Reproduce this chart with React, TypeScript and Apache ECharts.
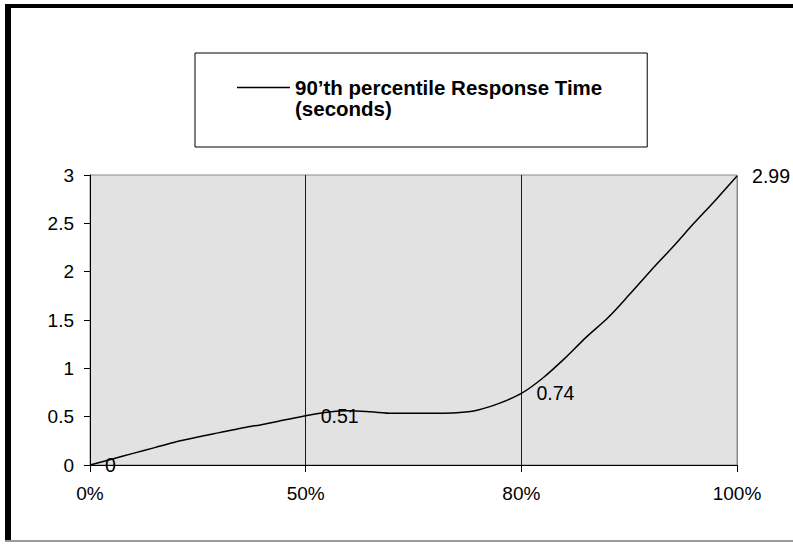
import React, { useEffect, useRef } from "react";
import * as echarts from "echarts";

const categories: string[] = [
  "0%", "5%", "10%", "15%", "20%", "25%", "30%", "35%", "40%", "45%", "50%",
  "53%", "56%", "59%", "62%", "65%", "68%", "71%", "74%", "77%", "80%",
  "82%", "84%", "86%", "88%", "90%", "92%", "94%", "96%", "98%", "100%",
];

const responseTime: number[] = [
  0, 0.06, 0.12, 0.18, 0.24, 0.29, 0.335, 0.38, 0.42, 0.465, 0.51,
  0.545, 0.56, 0.55, 0.535, 0.535, 0.535, 0.54, 0.57, 0.64, 0.74,
  0.9, 1.1, 1.32, 1.52, 1.76, 2.01, 2.25, 2.5, 2.74, 2.99,
];

const labeledIndices: number[] = [0, 10, 20, 30];

const yTicks: number[] = [0, 0.5, 1, 1.5, 2, 2.5, 3];

const seriesName = "90’th percentile Response Time (seconds)";

const FONT = "'Liberation Sans', Arial, Helvetica, sans-serif";

export default function App() {
  const ref = useRef<HTMLDivElement>(null);

  useEffect(() => {
    if (!ref.current) return;
    const chart = echarts.init(ref.current, undefined, { renderer: "svg" });

    const data = responseTime.map((v, i) =>
      labeledIndices.includes(i)
        ? { value: v, label: { show: true } }
        : { value: v }
    );

    chart.setOption({
      animation: false,
      backgroundColor: "#ffffff",
      textStyle: { fontFamily: FONT },
      graphic: [
        { type: "rect", shape: { x: 5, y: 4, width: 788, height: 4 }, style: { fill: "#000" } },
        { type: "rect", shape: { x: 5, y: 4, width: 6, height: 538 }, style: { fill: "#000" } },
        { type: "rect", shape: { x: 5, y: 540, width: 788, height: 2 }, style: { fill: "#9a9a9a" } },
      ],
      legend: {
        show: true,
        left: 195,
        top: 53,
        orient: "horizontal",
        padding: [24, 45, 28, 42],
        borderColor: "#000",
        borderWidth: 1,
        backgroundColor: "#fff",
        itemWidth: 53,
        itemHeight: 42,
        icon: "path://M0,0L0,42M0,9.8H53V11.2H0Z",
        itemStyle: { borderWidth: 0, color: "#000" },
        formatter: (name: string) => name.replace(" (seconds)", "\n(seconds)"),
        textStyle: {
          fontFamily: FONT,
          fontSize: 20.5,
          fontWeight: "bold",
          color: "#000",
          lineHeight: 21,
        },
        selectedMode: false,
        data: [seriesName],
      },
      grid: {
        left: 90,
        top: 175,
        right: 56,
        bottom: 79,
        show: true,
        backgroundColor: "#e2e2e2",
        borderColor: "#8a8a8a",
        borderWidth: 1,
        containLabel: false,
        outerBoundsMode: "none",
      },
      xAxis: {
        type: "category",
        data: categories,
        boundaryGap: false,
        axisLine: { show: true, lineStyle: { color: "#000", width: 1 } },
        axisTick: { show: true, interval: 9, length: 7, lineStyle: { color: "#000" } },
        axisLabel: {
          interval: 9,
          margin: 19,
          color: "#000",
          fontSize: 19,
          fontFamily: FONT,
        },
        splitLine: {
          show: true,
          interval: 9,
          lineStyle: { color: ["#000", "#1a1a1a", "#1a1a1a", "#8a8a8a"], width: 1 },
        },
      },
      yAxis: {
        type: "value",
        min: yTicks[0],
        max: yTicks[yTicks.length - 1],
        interval: 0.5,
        axisLine: { show: true, lineStyle: { color: "#000", width: 1 } },
        axisTick: { show: true, length: 6, lineStyle: { color: "#000" } },
        axisLabel: {
          margin: 16,
          color: "#000",
          fontSize: 19,
          fontFamily: FONT,
        },
        splitLine: { show: false },
      },
      series: [
        {
          name: seriesName,
          type: "line",
          data,
          smooth: 0.3,
          showSymbol: true,
          symbol: "circle",
          symbolSize: 0.1,
          itemStyle: { color: "#000" },
          lineStyle: { color: "#000", width: 1.5 },
          label: {
            show: false,
            position: "right",
            distance: 15,
            color: "#000",
            fontSize: 19.5,
            fontFamily: FONT,
            formatter: "{c}",
          },
          emphasis: { disabled: true },
        },
      ],
    });

    return () => chart.dispose();
  }, []);

  return (
    <div
      ref={ref}
      style={{ position: "fixed", left: 0, top: 0, width: 793, height: 544 }}
    />
  );
}
